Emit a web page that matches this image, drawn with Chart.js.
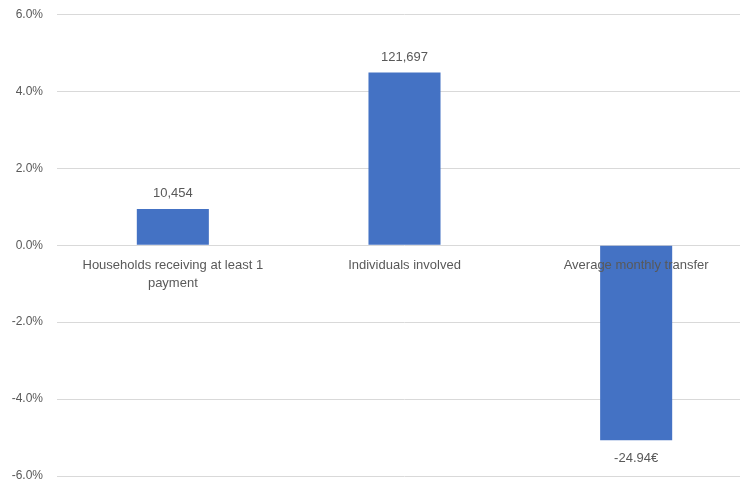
<!DOCTYPE html>
<html>
<head>
<meta charset="utf-8">
<script src="https://cdn.jsdelivr.net/npm/chart.js@4"></script>
<style>
  html, body { margin: 0; padding: 0; background: #fff; overflow: hidden; }
  #wrap { width: 752px; height: 484px; }
</style>
</head>
<body>
<div id="wrap"><canvas id="c" width="752" height="484"></canvas></div>
<script>
const categories = [["Households receiving at least 1", "payment"], "Individuals involved", "Average monthly transfer"];
const changePct = [0.945, 4.49, -5.07];
const valueLabels = ["10,454", "121,697", "-24.94€"];
const yTicks = [-6, -4, -2, 0, 2, 4, 6];

const TEXT = '#595959';
const FONT = 'Liberation Sans';

const dataLabelPlugin = {
  id: 'dataLabels',
  afterDatasetsDraw(chart) {
    const ctx = chart.ctx;
    const meta = chart.getDatasetMeta(0);
    ctx.save();
    ctx.font = '13px "' + FONT + '"';
    ctx.fillStyle = TEXT;
    ctx.textAlign = 'center';
    ctx.textBaseline = 'middle';
    meta.data.forEach((bar, i) => {
      const v = changePct[i];
      const y = v >= 0 ? bar.y - 15.5 : bar.y + 18;
      ctx.fillText(valueLabels[i], bar.x, y);
    });
    ctx.restore();
  }
};

new Chart(document.getElementById('c'), {
  type: 'bar',
  data: {
    labels: categories,
    datasets: [{
      data: changePct,
      backgroundColor: '#4472C4',
      borderWidth: 0,
      categoryPercentage: 1,
      barPercentage: 0.311
    }]
  },
  options: {
    responsive: false,
    animation: false,
    layout: { padding: { top: 14.5, bottom: 8, left: 0, right: 0 } },
    plugins: { legend: { display: false }, tooltip: { enabled: false } },
    scales: {
      x: {
        position: { y: 0 },
        afterFit(scale) { scale.height = 0; },
        grid: { display: false, drawTicks: false },
        border: { display: false },
        ticks: {
          z: 1,
          autoSkip: false, maxRotation: 0, minRotation: 0,
          color: TEXT, padding: 11,
          font: { family: FONT, size: 13, lineHeight: 1.38 }
        }
      },
      y: {
        min: -6, max: 6,
        afterFit(scale) { scale.width = 57; },
        afterBuildTicks(scale) { scale.ticks = yTicks.map(v => ({ value: v })); },
        grid: { color: '#D9D9D9', lineWidth: 1, drawTicks: true, tickLength: 14, tickColor: 'rgba(0,0,0,0)' },
        border: { display: false },
        ticks: {
          color: TEXT, padding: 0,
          font: { family: FONT, size: 12 },
          callback: v => v.toFixed(1) + '%'
        }
      }
    }
  },
  plugins: [dataLabelPlugin]
});
</script>
</body>
</html>
